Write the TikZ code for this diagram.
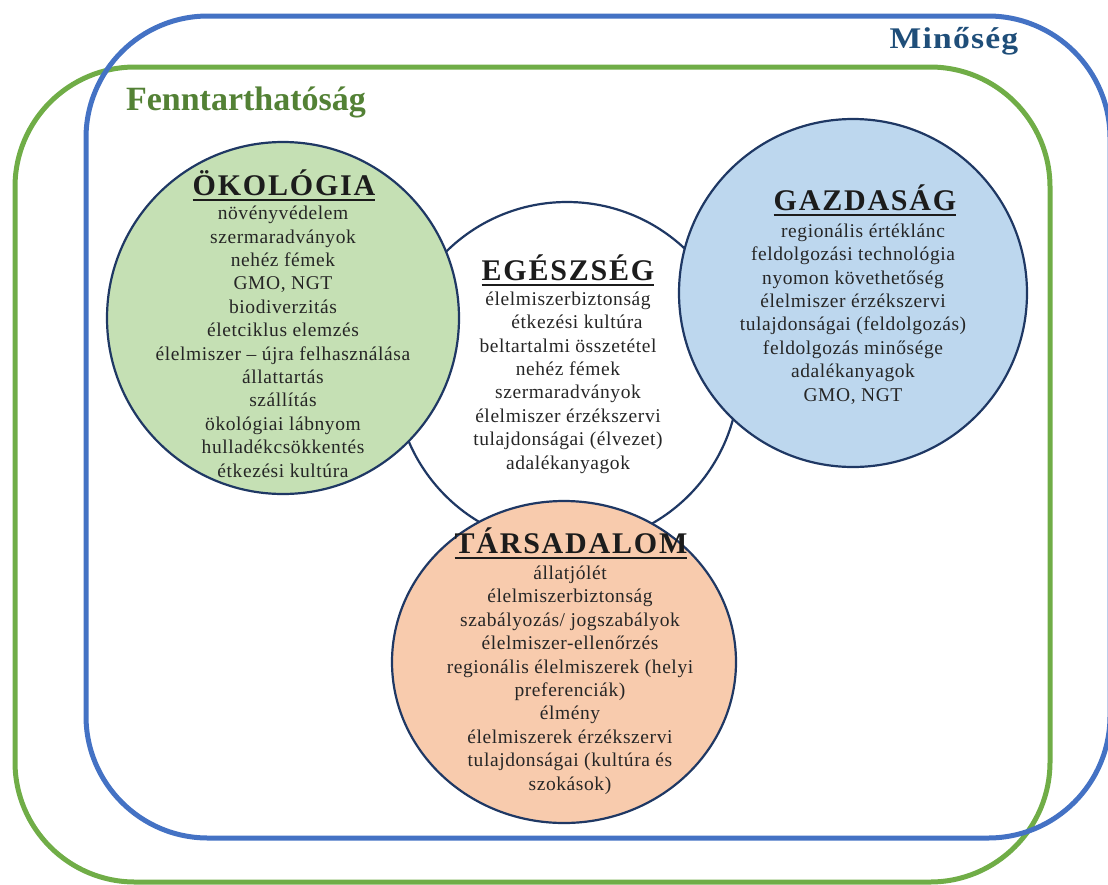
\documentclass[tikz,border=0pt]{standalone}
\usepackage{fontspec}
\setmainfont{Liberation Serif}
\newfontfamily\titlefont{Liberation Serif}[FakeStretch=1.12,LetterSpace=4]
\newfontfamily\headfont{Liberation Serif}[LetterSpace=6]
\newfontfamily\bodyfont{Liberation Serif}[LetterSpace=3]
\usepackage{tikz}
\usetikzlibrary{shapes.geometric, positioning}
\definecolor{frameBlue}{HTML}{4472C4}
\definecolor{frameGreen}{HTML}{70AD47}
\definecolor{titleBlue}{HTML}{1F4E79}
\definecolor{titleGreen}{HTML}{538135}
\definecolor{bubbleEdge}{HTML}{1F3864}
\definecolor{ecoFill}{HTML}{C5E0B4}
\definecolor{econFill}{HTML}{BDD7EE}
\definecolor{socFill}{HTML}{F8CBAD}
\definecolor{headInk}{HTML}{1C1C1C}
\definecolor{bodyInk}{HTML}{262626}
\newcommand{\ulhead}[1]{\setbox0\hbox{#1}\rlap{\rule[-6pt]{\wd0}{2.5pt}}\box0}

\begin{document}
\begin{tikzpicture}[x=1pt, y=-1pt,
    frame/.style={line width=5pt},
    bubble/.style={circle, draw=bubbleEdge, line width=2.2pt, inner sep=0pt, minimum size=#1},
    titletext/.style={font=\titlefont\bfseries\fontsize{30}{32}\selectfont, inner sep=0pt, anchor=base},
    headtext/.style={font=\headfont\bfseries\fontsize{30}{32}\selectfont, text=headInk, inner sep=0pt, anchor=base},
    bodytext/.style={font=\bodyfont\fontsize{19.5}{23.4}\selectfont, text=bodyInk, align=center, inner sep=0pt, anchor=base}]
  \useasboundingbox (0,0) rectangle (1108,884);
  % outer frames
  \draw[frame, draw=frameGreen, rounded corners=120pt] (15,67) rectangle (1050,882);
  \draw[frame, draw=frameBlue, rounded corners=122pt] (86,16) rectangle (1110,838);
  \node[titletext, text=titleBlue] (quality) at (954,48) {Minőség};
  \node[titletext, text=titleGreen, font=\bfseries\fontsize{34}{36}\selectfont] (sustain) at (246,110) {Fenntarthatóság};

  % the four fields
  \node[bubble=344pt, fill=white] (health) at (567,374) {};
  \node[bubble=352pt, fill=ecoFill] (eco) at (283,318) {};
  \node[bubble=348pt, fill=econFill] (econ) at (853,293) {};
  \node[ellipse, draw=bubbleEdge, line width=2.2pt, fill=socFill, inner sep=0pt,
    minimum width=344pt, minimum height=322pt] (soc) at (564,662) {};

  % ecology (base = last line)
  \node[headtext] (ecohead) at (284,195) {\ulhead{ÖKOLÓGIA}};
  \node[bodytext] (ecobody) at (283,477) {növényvédelem\\ szermaradványok\\ nehéz fémek\\ GMO, NGT\\
    biodiverzitás\\ életciklus elemzés\\ élelmiszer – újra felhasználása\\ állattartás\\
    szállítás\\ ökológiai lábnyom\\ hulladékcsökkentés\\ étkezési kultúra};

  % health
  \node[headtext] (healthhead) at (568,280) {\ulhead{EGÉSZSÉG}};
  \node[bodytext] (healthbody) at (568,469) {élelmiszerbiztonság\\ \hspace*{18pt}étkezési kultúra\\
    beltartalmi összetétel\\ nehéz fémek\\ szermaradványok\\ élelmiszer érzékszervi\\
    tulajdonságai (élvezet)\\ adalékanyagok};

  % economy
  \node[headtext] (econhead) at (865,210) {\ulhead{GAZDASÁG}};
  \node[bodytext] (econbody) at (853,401) {\hspace*{20pt}regionális értéklánc\\ feldolgozási technológia\\
    nyomon követhetőség\\ élelmiszer érzékszervi\\ tulajdonságai (feldolgozás)\\
    feldolgozás minősége\\ adalékanyagok\\ GMO, NGT};

  % society
  \node[headtext] (sochead) at (571,553) {\ulhead{TÁRSADALOM}};
  \node[bodytext] (socbody) at (570,790) {állatjólét\\ élelmiszerbiztonság\\ szabályozás/ jogszabályok\\
    élelmiszer-ellenőrzés\\ regionális élelmiszerek (helyi\\ preferenciák)\\ élmény\\
    élelmiszerek érzékszervi\\ tulajdonságai (kultúra és\\ szokások)};
\end{tikzpicture}
\end{document}
